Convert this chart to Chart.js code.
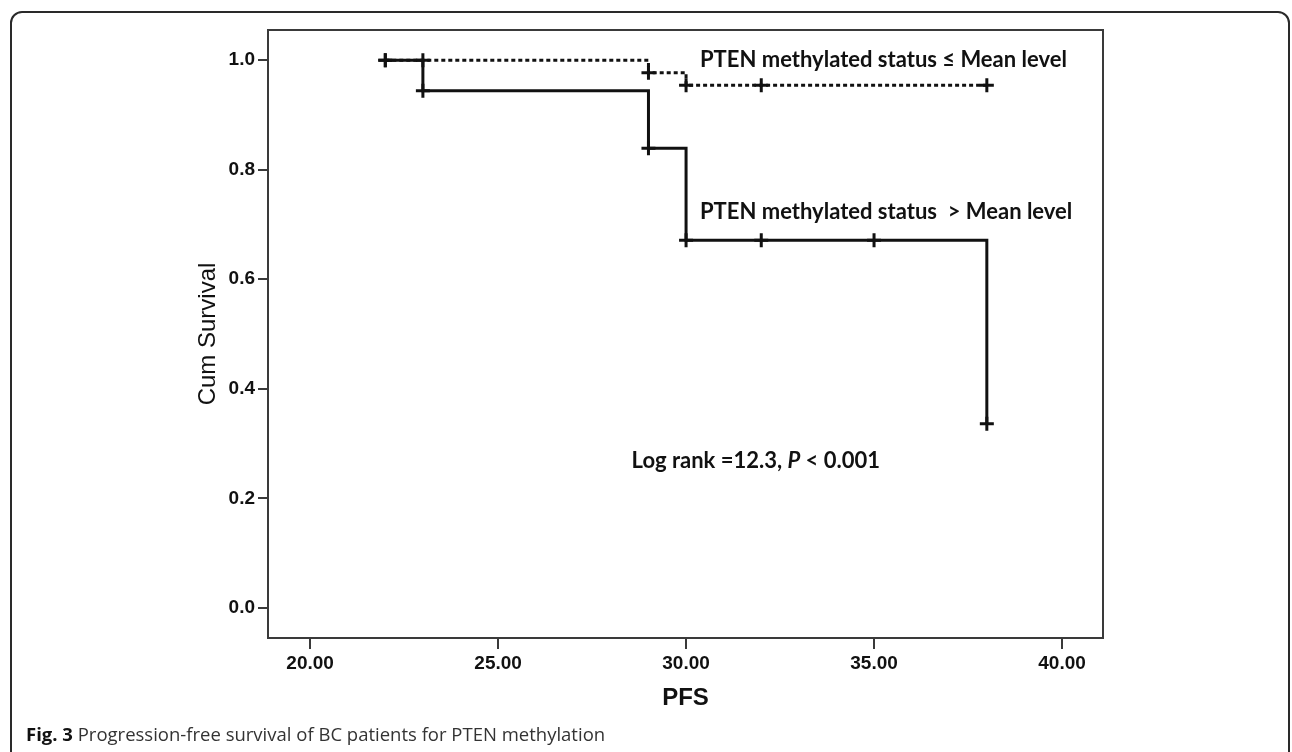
<!DOCTYPE html>
<html>
<head>
<meta charset="utf-8">
<script src="https://cdn.jsdelivr.net/npm/chart.js@4.4.1/dist/chart.umd.min.js"></script>
<style>
  html, body { margin:0; padding:0; background:#fff; }
  body { width:1292px; height:752px; position:relative; overflow:hidden; }
  #frame { position:absolute; left:10px; top:11px; width:1280px; height:800px; border:2px solid #2a2a2a; border-radius:12px; box-sizing:border-box; }
  #wrap { position:absolute; left:0; top:0; width:1292px; height:752px; }
  #caption { position:absolute; left:26px; top:721px; font-family:"Open Sans", sans-serif; font-size:18.5px; color:#333; white-space:nowrap; }
  #caption b { color:#111; }
</style>
</head>
<body>
<div id="frame"></div>
<div id="wrap"><canvas id="km"></canvas></div>
<div id="caption"><b>Fig. 3</b> Progression-free survival of BC patients for PTEN methylation</div>
<script>
// PTEN methylated status <= mean level (dashed)
const lowTime = [22, 29, 30, 38];
const lowSurv = [1.0, 0.977, 0.954, 0.954];
const lowCensorTime = [22, 23, 29, 30, 32, 38];
const lowCensorSurv = [1.0, 1.0, 0.977, 0.954, 0.954, 0.954];

// PTEN methylated status > mean level (solid)
const highTime = [22, 23, 29, 30, 38];
const highSurv = [1.0, 0.944, 0.839, 0.671, 0.336];
const highCensorTime = [22, 23, 29, 30, 32, 35, 38];
const highCensorSurv = [1.0, 0.944, 0.839, 0.671, 0.671, 0.671, 0.336];

const xTicks = [20, 25, 30, 35, 40];
const yTicks = [0, 0.2, 0.4, 0.6, 0.8, 1.0];

const pts = (xs, ys) => xs.map((x, i) => ({x, y: ys[i]}));
const ink = '#111';
const axisCol = '#3a3a3a';
const tickFont = {family:'"Liberation Sans", Arial, sans-serif', size:19, weight:'bold'};
const noteFont = 'bold 22px Lato, sans-serif';

// box around the plot area + text notes
const extras = {
  id: 'extras',
  beforeDatasetsDraw(chart) {
    const {ctx, chartArea:a} = chart;
    ctx.save();
    ctx.strokeStyle = axisCol;
    ctx.lineWidth = 2;
    ctx.strokeRect(a.left, a.top, a.right - a.left, a.bottom - a.top);
    ctx.restore();
  },
  afterDatasetsDraw(chart) {
    const {ctx, scales:{x, y}} = chart;
    ctx.save();
    ctx.fillStyle = ink;
    ctx.textBaseline = 'middle';
    ctx.font = noteFont;
    ctx.fillText('PTEN methylated status \u2264 Mean level', x.getPixelForValue(30.37), y.getPixelForValue(1.0));
    ctx.fillText('PTEN methylated status  > Mean level', x.getPixelForValue(30.37), y.getPixelForValue(0.722));
    // log rank with italic P
    let px = x.getPixelForValue(28.55);
    const py = y.getPixelForValue(0.268);
    const seg = [[noteFont, 'Log rank =12.3, '], ['italic ' + noteFont, 'P'], [noteFont, ' < 0.001']];
    seg.forEach(([f, t]) => { ctx.font = f; ctx.fillText(t, px, py); px += ctx.measureText(t).width; });
    ctx.restore();
  }
};

new Chart(document.getElementById('km'), {
  type: 'scatter',
  data: {
    datasets: [
      { data: pts(highTime, highSurv), showLine:true, stepped:'before', borderColor:ink, borderWidth:3, pointRadius:0 },
      { data: pts(lowTime, lowSurv), showLine:true, stepped:'before', borderColor:ink, borderWidth:3, borderDash:[4,3], pointRadius:0 },
      { data: pts(highCensorTime, highCensorSurv), showLine:false, pointStyle:'cross', pointRadius:7, borderColor:ink, borderWidth:3 },
      { data: pts(lowCensorTime, lowCensorSurv), showLine:false, pointStyle:'cross', pointRadius:7, borderColor:ink, borderWidth:3 }
    ]
  },
  options: {
    responsive:true, maintainAspectRatio:false, animation:false,
    layout: { padding: { left:193.6, top:30, right:189, bottom:39.4 } },
    plugins: { legend:{ display:false }, tooltip:{ enabled:false } },
    scales: {
      x: {
        type:'linear', min:18.88, max:41.09,
        afterBuildTicks: s => { s.ticks = xTicks.map(v => ({value:v})); },
        afterFit: s => { s.height = 74.6; },
        ticks: { callback: v => v.toFixed(2), font:tickFont, color:ink, padding:3, maxRotation:0 },
        grid: { drawOnChartArea:false, tickLength:11, color:axisCol, lineWidth:2 },
        border: { color:axisCol, width:2 },
        title: { display:true, text:'PFS', font:{family:'"Liberation Sans", Arial, sans-serif', size:24, weight:'bold'}, color:ink, padding:0 }
      },
      y: {
        type:'linear', min:-0.055, max:1.055,
        afterBuildTicks: s => { s.ticks = yTicks.map(v => ({value:v})); },
        afterFit: s => { s.width = 74.4; },
        ticks: { callback: v => v.toFixed(1), font:tickFont, color:ink, padding:3 },
        grid: { drawOnChartArea:false, tickLength:10, color:axisCol, lineWidth:2 },
        border: { color:axisCol, width:2 },
        title: { display:true, text:'Cum Survival', font:{family:'"Liberation Sans", Arial, sans-serif', size:24}, color:ink, padding:0 }
      }
    }
  },
  plugins: [extras]
});
</script>
</body>
</html>
